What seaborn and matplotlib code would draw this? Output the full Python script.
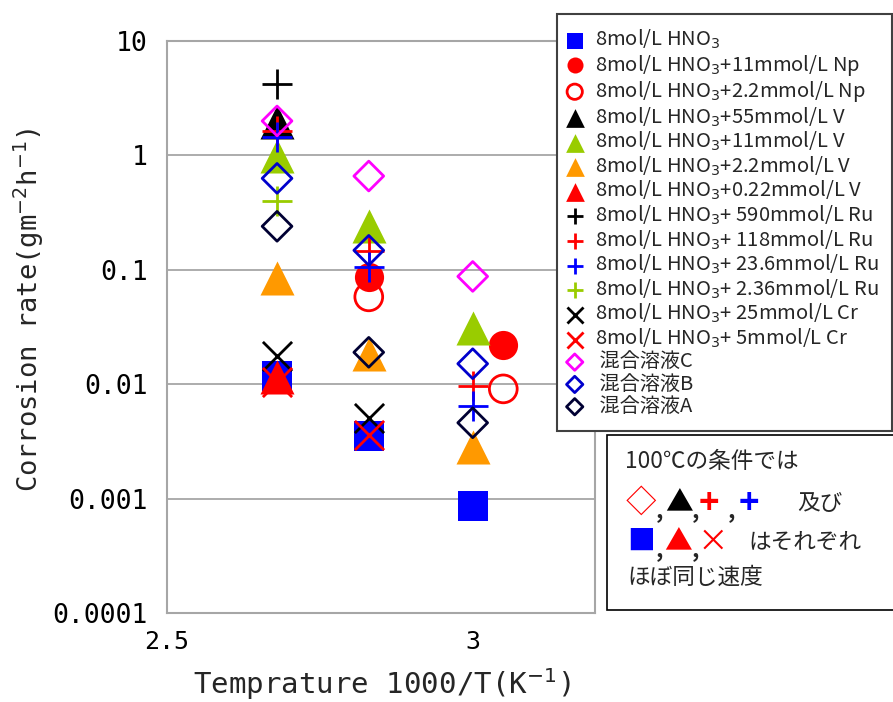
import matplotlib
matplotlib.use("Agg")
import matplotlib.pyplot as plt
from matplotlib.patches import Rectangle
from matplotlib.font_manager import FontProperties
from matplotlib.ticker import NullLocator
import pandas as pd
import seaborn as sns

# ---------------------------------------------------------------- data
# Inverse test temperature, 1000/T (K^-1)
x_100C = 2.68
x_80C = 2.83
x_60C = 3.00
x_np_low = 3.05

y_ticks = [1e-4, 1e-3, 1e-2, 1e-1, 1, 10]
y_tick_labels = ["0.0001", "0.001", "0.01", "0.1", "1", "10"]
x_ticks = [2.5, 3.0]
x_tick_labels = ["2.5", "3"]

hno3_x = [x_100C, x_80C, x_60C]
hno3_y = [0.0118, 0.0035, 0.00086]

np11_x = [x_80C, x_np_low]
np11_y = [0.086, 0.0218]

np22_x = [x_80C, x_np_low]
np22_y = [0.058, 0.0091]

v55_x = [x_100C]
v55_y = [1.95]

v11_x = [x_100C, x_80C, x_60C]
v11_y = [0.98, 0.24, 0.031]

v22_x = [x_100C, x_80C, x_60C]
v22_y = [0.084, 0.0185, 0.0028]

v022_x = [x_100C]
v022_y = [0.0115]

ru590_x = [x_100C]
ru590_y = [4.2]

ru118_x = [x_100C, x_80C, x_60C]
ru118_y = [1.62, 0.145, 0.0097]

ru236_x = [x_100C, x_80C, x_60C]
ru236_y = [1.45, 0.105, 0.0064]

ru2p36_x = [x_100C]
ru2p36_y = [0.40]

cr25_x = [x_100C, x_80C]
cr25_y = [0.0175, 0.0051]

cr5_x = [x_100C, x_80C]
cr5_y = [0.0105, 0.0036]

mixC_x = [x_100C, x_80C, x_60C]
mixC_y = [2.0, 0.66, 0.0875]

mixB_x = [x_100C, x_80C, x_60C]
mixB_y = [0.63, 0.148, 0.0151]

mixA_x = [x_100C, x_80C, x_60C]
mixA_y = [0.24, 0.019, 0.0046]

labels = [
    "8mol/L HNO$_3$",
    "8mol/L HNO$_3$+11mmol/L Np",
    "8mol/L HNO$_3$+2.2mmol/L Np",
    "8mol/L HNO$_3$+55mmol/L V",
    "8mol/L HNO$_3$+11mmol/L V",
    "8mol/L HNO$_3$+2.2mmol/L V",
    "8mol/L HNO$_3$+0.22mmol/L V",
    "8mol/L HNO$_3$+ 590mmol/L Ru",
    "8mol/L HNO$_3$+ 118mmol/L Ru",
    "8mol/L HNO$_3$+ 23.6mmol/L Ru",
    "8mol/L HNO$_3$+ 2.36mmol/L Ru",
    "8mol/L HNO$_3$+ 25mmol/L Cr",
    "8mol/L HNO$_3$+ 5mmol/L Cr",
    " 混合溶液C",
    " 混合溶液B",
    " 混合溶液A",
]

# ---------------------------------------------------------------- styles
BLUE = "#0000FF"
RED = "#FF0000"
BLACK = "#000000"
GREEN = "#99CC00"
ORANGE = "#FF9900"
MAGENTA = "#FF00FF"
NAVY_B = "#0000CC"
DARK_A = "#000033"


def filled(marker, size, color):
    return dict(marker=marker, s=size, color=color, edgecolor=color, linewidth=0)


def hollow(marker, size, color, lw=2.0):
    return dict(marker=marker, s=size, color=color, facecolor="none",
                edgecolor=color, linewidth=lw)


def lineart(marker, size, color, lw=2.0):
    return dict(marker=marker, s=size, color=color, linewidth=lw)


SQ, CI, TRI, DIA, CROSS = 441, 441, 600, 230, 441

series = [
    (hno3_x, hno3_y, filled("s", SQ, BLUE)),
    (np11_x, np11_y, filled("o", CI, RED)),
    (np22_x, np22_y, hollow("o", 400, RED)),
    (v55_x, v55_y, filled("^", TRI, BLACK)),
    (v11_x, v11_y, filled("^", TRI, GREEN)),
    (v22_x, v22_y, filled("^", TRI, ORANGE)),
    (v022_x, v022_y, filled("^", TRI, RED)),
    (ru590_x, ru590_y, lineart("+", CROSS, BLACK)),
    (ru118_x, ru118_y, lineart("+", CROSS, RED)),
    (ru236_x, ru236_y, lineart("+", CROSS, BLUE)),
    (ru2p36_x, ru2p36_y, lineart("+", CROSS, GREEN)),
    (cr25_x, cr25_y, lineart("x", CROSS, BLACK)),
    (cr5_x, cr5_y, lineart("x", CROSS, RED)),
    (mixC_x, mixC_y, hollow("D", DIA, MAGENTA)),
    (mixB_x, mixB_y, hollow("D", DIA, NAVY_B)),
    (mixA_x, mixA_y, hollow("D", DIA, DARK_A)),
]

# ---------------------------------------------------------------- figure
sns.set_style("white")
JP = ["Noto Sans CJK JP", "DejaVu Sans"]
plt.rcParams["font.family"] = JP

W, H = 893, 702
fig = plt.figure(figsize=(W / 100, H / 100), dpi=100)
ax = fig.add_axes([167 / W, 1 - 613 / H, (595 - 167) / W, (613 - 41) / H])

for (xs, ys, st), lab in zip(series, labels):
    df = pd.DataFrame({"x": xs, "y": ys})
    sns.scatterplot(data=df, x="x", y="y", ax=ax, label=lab, legend=False,
                    clip_on=False, **st)

ax.set_yscale("log")
ax.set_ylim(1e-4, 10)
ax.set_xlim(2.5, 3.2)
ax.set_yticks(y_ticks, y_tick_labels)
ax.set_xticks(x_ticks, x_tick_labels)
ax.yaxis.set_minor_locator(NullLocator())
ax.xaxis.set_minor_locator(NullLocator())

mono = "DejaVu Sans Mono"
for t in ax.get_yticklabels():
    t.set_fontfamily(mono)
    t.set_fontsize(19)
for t in ax.get_xticklabels():
    t.set_fontfamily(mono)
    t.set_fontsize(18)
ax.tick_params(axis="both", length=0, colors="#000000")
ax.tick_params(axis="y", pad=14)
ax.tick_params(axis="x", pad=12)

ax.yaxis.grid(True, color="#A6A6A6", linewidth=1.3)
ax.xaxis.grid(False)
ax.set_axisbelow(True)
for sp in ax.spines.values():
    sp.set_color("#A6A6A6")
    sp.set_linewidth(1.5)

ax.set_xlabel("Temprature 1000/T(K$^{-1}$)", fontfamily=mono, fontsize=21)
ax.set_ylabel("Corrosion rate(gm$^{-2}$h$^{-1}$)", fontfamily=mono, fontsize=19.5)
ax.xaxis.label.set_va("center")
ax.yaxis.label.set_va("center")
ax.xaxis.set_label_coords(0.502, -0.124)
ax.yaxis.set_label_coords(-0.322, 0.53)

# ---------------------------------------------------------------- legend
handles, leg_labels = ax.get_legend_handles_labels()
leg = ax.legend(
    handles, leg_labels,
    loc="upper left",
    bbox_to_anchor=(557 / W, 1 - 428 / H, (892 - 557) / W, (428 - 14) / H),
    bbox_transform=fig.transFigure,
    mode="expand",
    prop=FontProperties(family=JP, size=14.5),
    markerscale=0.55,
    scatterpoints=1,
    frameon=True, fancybox=False, framealpha=1,
    borderpad=0.7, handlelength=0.36, handletextpad=0.82,
    labelspacing=0.065, borderaxespad=0,
)
leg.get_frame().set_edgecolor("#404040")
leg.get_frame().set_linewidth(1.5)
leg.set_zorder(10)

# ---------------------------------------------------------------- note box
def fx(px):
    return px / W


def fy(py):
    return 1 - py / H


fig.add_artist(Rectangle((fx(607), fy(610)), fx(893 - 607 + 5), (610 - 435) / H,
                         transform=fig.transFigure, facecolor="white",
                         edgecolor="#000000", linewidth=1.2, clip_on=False))

note_size = 16.3
fig.text(fx(625), fy(462), "100℃の条件では", ha="left", va="center",
         fontsize=note_size, family=JP)

row2 = [("◇", 641, RED, 22, "normal"), ("▲", 679, BLACK, 20, "normal"),
        ("+", 709, RED, 25, "bold"), ("+", 749, BLUE, 25, "bold")]
for ch, px, col, sz, wt in row2:
    fig.text(fx(px), fy(503), ch, ha="center", va="center", fontsize=sz,
             color=col, family=JP, fontweight=wt)
for px in (659, 695, 731):
    fig.text(fx(px), fy(517), ",", ha="center", va="baseline", fontsize=note_size,
             family=JP, fontweight="bold")
fig.text(fx(797), fy(503), "及び", ha="left", va="center", fontsize=note_size, family=JP)

row3 = [("■", 641, BLUE, 20), ("▲", 678, RED, 20), ("×", 713, RED, 22)]
for ch, px, col, sz in row3:
    fig.text(fx(px), fy(542), ch, ha="center", va="center", fontsize=sz,
             color=col, family=JP)
for px in (659, 695):
    fig.text(fx(px), fy(556), ",", ha="center", va="baseline", fontsize=note_size,
             family=JP, fontweight="bold")
fig.text(fx(748), fy(542), "はそれぞれ", ha="left", va="center", fontsize=note_size,
         family=JP)
fig.text(fx(627), fy(577), "ほぼ同じ速度", ha="left", va="center",
         fontsize=note_size, family=JP)

fig.savefig("out.png", dpi=100)
